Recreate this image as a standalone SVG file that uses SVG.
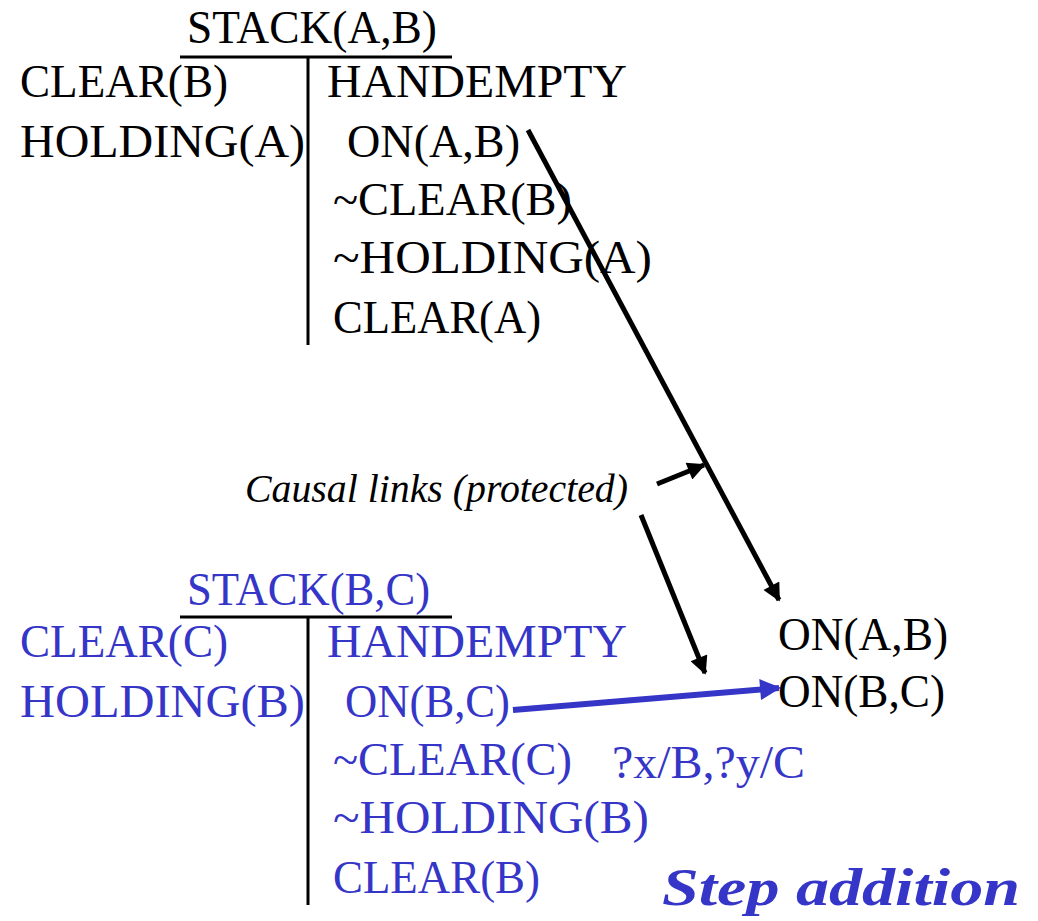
<svg xmlns="http://www.w3.org/2000/svg" width="1038" height="921" viewBox="0 0 1038 921">
<style>
text{font-family:"Liberation Serif","Times New Roman",serif;font-size:46px}
.k{fill:#000}
.b{fill:#3535C8}
.it{font-style:italic;font-size:41px}
.step{font-style:italic;font-weight:bold;font-size:53px;fill:#3535C8}
.ln{stroke:#000;stroke-width:3;fill:none}
.ar{stroke:#000;stroke-width:5;fill:none}
.bar{stroke:#3535C8;stroke-width:6;fill:none}
</style>
<defs>
<marker id="ah" viewBox="0 0 10 10" refX="9" refY="5" markerWidth="4.4" markerHeight="3.6" orient="auto" markerUnits="strokeWidth">
<path d="M0,0 L10,5 L0,10 Z" fill="#000"/>
</marker>
<marker id="ahb" viewBox="0 0 10 10" refX="9" refY="5" markerWidth="4.5" markerHeight="3.5" orient="auto" markerUnits="strokeWidth">
<path d="M0,0 L10,5 L0,10 Z" fill="#3535C8"/>
</marker>
</defs>
<g id="step-stack-ab">
<text class="k" x="187" y="43" textLength="250" lengthAdjust="spacingAndGlyphs">STACK(A,B)</text>
<line class="ln" x1="180" y1="57" x2="452" y2="57"/>
<line class="ln" x1="308" y1="57" x2="308" y2="345"/>
<text class="k" x="20" y="97" textLength="208" lengthAdjust="spacingAndGlyphs">CLEAR(B)</text>
<text class="k" x="20" y="157" textLength="285" lengthAdjust="spacingAndGlyphs">HOLDING(A)</text>
<text class="k" x="327" y="97" textLength="300" lengthAdjust="spacingAndGlyphs">HANDEMPTY</text>
<text class="k" x="347" y="157" textLength="173" lengthAdjust="spacingAndGlyphs">ON(A,B)</text>
<text class="k" x="333" y="215" textLength="239" lengthAdjust="spacingAndGlyphs">~CLEAR(B)</text>
<text class="k" x="333" y="273" textLength="319" lengthAdjust="spacingAndGlyphs">~HOLDING(A)</text>
<text class="k" x="333" y="333" textLength="208" lengthAdjust="spacingAndGlyphs">CLEAR(A)</text>
</g>
<g id="step-stack-bc">
<text class="b" x="187" y="605" textLength="243" lengthAdjust="spacingAndGlyphs">STACK(B,C)</text>
<line class="ln" x1="180" y1="617" x2="452" y2="617"/>
<line class="ln" x1="308" y1="617" x2="308" y2="905"/>
<text class="b" x="20" y="657" textLength="208" lengthAdjust="spacingAndGlyphs">CLEAR(C)</text>
<text class="b" x="20" y="717" textLength="285" lengthAdjust="spacingAndGlyphs">HOLDING(B)</text>
<text class="b" x="327" y="657" textLength="300" lengthAdjust="spacingAndGlyphs">HANDEMPTY</text>
<text class="b" x="345" y="717" textLength="165" lengthAdjust="spacingAndGlyphs">ON(B,C)</text>
<text class="b" x="333" y="775" textLength="239" lengthAdjust="spacingAndGlyphs">~CLEAR(C)</text>
<text class="b" x="333" y="833" textLength="316" lengthAdjust="spacingAndGlyphs">~HOLDING(B)</text>
<text class="b" x="333" y="893" textLength="207" lengthAdjust="spacingAndGlyphs">CLEAR(B)</text>
</g>
<g id="goal">
<text class="k" x="778" y="650" textLength="170" lengthAdjust="spacingAndGlyphs">ON(A,B)</text>
<text class="k" x="778" y="707" textLength="167" lengthAdjust="spacingAndGlyphs">ON(B,C)</text>
</g>
<g id="binding">
<text class="b" x="612" y="778" font-size="41" textLength="193" lengthAdjust="spacingAndGlyphs">?x/B,?y/C</text>
</g>
<g id="label-causal">
<text class="k it" x="245" y="502" textLength="383" lengthAdjust="spacingAndGlyphs">Causal links (protected)</text>
</g>
<g id="label-step">
<text class="step" x="662" y="905" textLength="358" lengthAdjust="spacingAndGlyphs">Step addition</text>
</g>
<g id="connectors">
<line class="ar" x1="528" y1="130" x2="779" y2="600" marker-end="url(#ah)"/>
<line class="ar" x1="657" y1="484" x2="704" y2="465" marker-end="url(#ah)"/>
<line class="ar" x1="641" y1="515" x2="705" y2="673" marker-end="url(#ah)"/>
<line class="bar" x1="513" y1="710" x2="779" y2="688" marker-end="url(#ahb)"/>
</g>
</svg>
